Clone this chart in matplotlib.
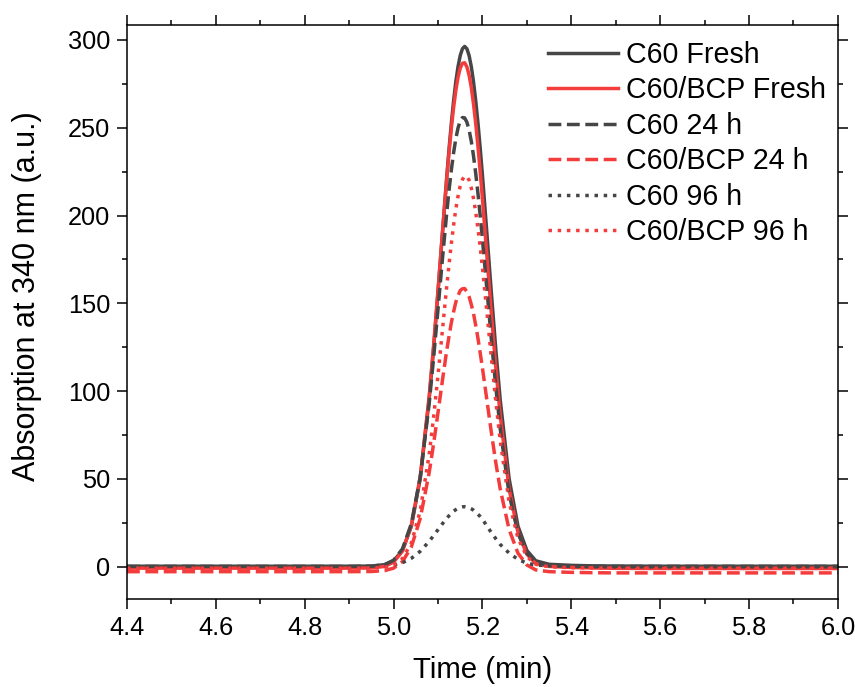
import matplotlib
matplotlib.use("Agg")
import matplotlib.pyplot as plt
from matplotlib.ticker import MultipleLocator

plt.rcParams['font.family'] = ['Liberation Sans', 'DejaVu Sans']

time_min = [4.40, 4.50, 4.60, 4.70, 4.80, 4.90, 4.95, 4.98, 5.00, 5.02, 5.04, 5.06,
            5.08, 5.09, 5.10, 5.11,
            5.12, 5.125, 5.13, 5.135, 5.14, 5.145, 5.15, 5.155, 5.16, 5.165, 5.17, 5.175,
            5.18, 5.185, 5.19, 5.195, 5.20,
            5.21, 5.22, 5.23, 5.24, 5.26, 5.28, 5.30, 5.32, 5.35, 5.40, 5.45,
            5.50, 5.60, 5.70, 5.80, 5.90, 6.00]

c60_fresh = [0.3, 0.3, 0.3, 0.3, 0.3, 0.3, 0.4, 1.2, 3.4, 9.3, 23.1, 50.2,
             95.1, 124.0, 156.3, 190.0,
             223.0, 238.3, 252.5, 265.1, 276.0, 284.7, 291.1, 295.0, 296.3, 295.0, 291.1, 284.7,
             276.0, 265.1, 252.5, 238.3, 223.0,
             190.0, 156.3, 124.0, 95.1, 50.2, 23.1, 9.3, 3.4, 1.4, 0.8, 0.5,
             0.4, 0.3, 0.3, 0.3, 0.3, 0.3]

bcp_fresh = [-0.8, -0.8, -0.8, -0.8, -0.8, -0.8, -0.7, 0.2, 2.6, 8.9, 23.4, 51.3,
             96.7, 125.7, 157.5, 190.3,
             221.9, 236.5, 249.7, 261.3, 271.0, 278.7, 283.9, 286.7, 287.0, 284.7, 279.9, 272.8,
             263.4, 252.1, 239.2, 224.9, 209.6,
             177.2, 144.5, 113.7, 86.2, 44.4, 19.5, 7.1, 1.8, 0.2, -0.4, -0.7,
             -0.9, -1.0, -1.0, -1.0, -1.0, -1.0]

c60_24h = [0.2, 0.2, 0.2, 0.2, 0.2, 0.2, 0.3, 1.2, 3.7, 10.2, 24.5, 51.0,
           92.6, 118.6, 146.7, 175.3,
           202.4, 214.8, 225.9, 235.6, 243.6, 249.8, 253.9, 255.8, 255.6, 253.2, 248.7, 242.2,
           233.8, 223.8, 212.4, 199.9, 186.4,
           158.1, 129.6, 102.7, 78.6, 41.5, 19.1, 7.7, 2.7, 0.8, 0.4, 0.3,
           0.2, 0.2, 0.2, 0.2, 0.2, 0.2]

bcp_24h = [-2.8, -2.8, -2.8, -2.8, -2.8, -2.8, -2.7, -2.2, -0.8, 2.9, 11.3, 27.5,
           53.4, 69.8, 87.8, 106.2,
           123.8, 131.5, 139.0, 145.1, 150.6, 154.3, 157.3, 158.3, 158.4, 156.6, 153.8, 149.3,
           144.1, 137.3, 130.0, 121.7, 113.2,
           94.9, 76.6, 59.4, 44.3, 21.2, 7.7, 1.0, -1.8, -2.8, -3.2, -3.4,
           -3.5, -3.5, -3.5, -3.5, -3.5, -3.5]

c60_96h = [0.0, 0.0, 0.0, 0.0, 0.0, 0.0, 0.1, 0.4, 1.0, 2.3, 4.8, 8.8,
           14.4, 17.7, 21.1, 24.5,
           27.7, 29.1, 30.4, 31.6, 32.5, 33.3, 33.8, 34.1, 34.2, 34.0, 33.6, 33.0,
           32.2, 31.1, 29.9, 28.6, 27.1,
           23.2, 19.5, 16.0, 12.7, 7.8, 4.2, 2.0, 1.0, 0.5, 0.2, 0.0,
           0.0, 0.0, 0.0, 0.0, 0.0, 0.0]

bcp_96h = [-0.8, -0.8, -0.8, -0.8, -0.8, -0.8, -0.7, -0.3, 0.9, 4.6, 13.5, 31.8,
           63.7, 84.9, 109.0, 134.8,
           160.5, 172.6, 184.1, 194.3, 203.6, 210.9, 216.8, 220.5, 222.5, 222.1, 220.1, 215.6,
           209.7, 201.7, 192.5, 181.8, 170.3,
           145.2, 119.2, 94.3, 71.8, 37.0, 16.2, 5.8, 1.4, 0.0, -0.5, -0.7,
           -0.8, -0.8, -0.8, -0.8, -0.8, -0.8]

labels = ["C60 Fresh", "C60/BCP Fresh", "C60 24 h", "C60/BCP 24 h", "C60 96 h", "C60/BCP 96 h"]
series = [c60_fresh, bcp_fresh, c60_24h, bcp_24h, c60_96h, bcp_96h]

dark = '#464646'
red = '#f43c3c'
colors = [dark, red, dark, red, dark, red]
styles = ['-', '-', '--', '--', ':', ':']

fig = plt.figure(figsize=(8.55, 6.87), dpi=100)
ax = fig.add_axes([0.1485, 0.128, 0.8315, 0.8356])

for y, lab, c, ls in zip(series, labels, colors, styles):
    ax.plot(time_min, y, color=c, ls=ls, lw=2.5, label=lab)

ax.set_xlim(4.4, 6.0)
ax.set_ylim(-18.4, 308.5)
ax.xaxis.set_major_locator(MultipleLocator(0.2))
ax.xaxis.set_minor_locator(MultipleLocator(0.1))
ax.yaxis.set_major_locator(MultipleLocator(50))
ax.yaxis.set_minor_locator(MultipleLocator(25))
ax.xaxis.set_major_formatter(plt.FuncFormatter(lambda v, p: f"{v:.1f}"))

ax.tick_params(which='both', direction='out', top=True, right=True, width=1.1,
               labelsize=18.3, labeltop=False, labelright=False)
ax.tick_params(which='major', length=7, pad=5)
ax.tick_params(which='minor', length=3.5)
for s in ax.spines.values():
    s.set_linewidth(1.1)

ax.set_xlabel("Time (min)", fontsize=21.2, labelpad=12)
ax.set_ylabel("Absorption at 340 nm (a.u.)", fontsize=22)
ax.yaxis.set_label_coords(-0.119, 0.527)

ax.legend(loc='upper right', frameon=False, fontsize=20.6, handlelength=2.45,
          handletextpad=0.3, labelspacing=0.26, borderaxespad=0.2,
          bbox_to_anchor=(1.008, 1.002))

fig.savefig("out.png", dpi=100)
